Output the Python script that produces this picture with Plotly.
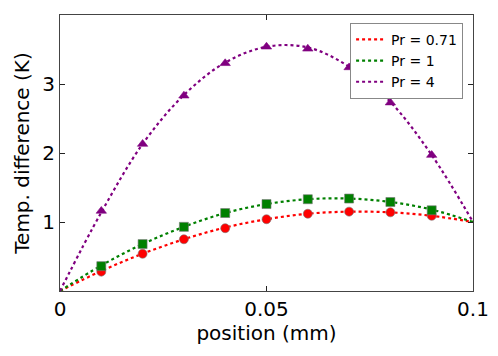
#! /usr/bin/env python3

import plotly.graph_objects as go

# model curves (dotted lines)
x_curve = [0.0, 0.01, 0.02, 0.03, 0.04, 0.05, 0.06, 0.07, 0.08, 0.09, 0.1]
curve_071 = [0.0, 0.29, 0.54, 0.75, 0.92, 1.04, 1.12, 1.15, 1.14, 1.09, 1.0]
curve_1 = [0.0, 0.37, 0.68, 0.93, 1.13, 1.26, 1.33, 1.34, 1.29, 1.18, 1.0]
curve_4 = [0.0, 1.14, 2.13, 2.84, 3.31, 3.54, 3.53, 3.25, 2.74, 1.97, 1.0]

# measured points (markers)
x_pts = [0.01, 0.02, 0.03, 0.04, 0.05, 0.06, 0.07, 0.08, 0.09]
pts_071 = [0.28, 0.54, 0.75, 0.91, 1.04, 1.12, 1.15, 1.14, 1.09]
pts_1 = [0.36, 0.68, 0.93, 1.13, 1.26, 1.33, 1.34, 1.29, 1.17]
pts_4 = [1.16, 2.13, 2.83, 3.30, 3.54, 3.51, 3.24, 2.73, 1.97]

series = [
    ("Pr = 0.71", curve_071, pts_071, "red", "circle", 9),
    ("Pr = 1", curve_1, pts_1, "green", "square", 9),
    ("Pr = 4", curve_4, pts_4, "purple", "triangle-up", 9),
]

fig = go.Figure()
for name, curve, pts, col, sym, sz in series:
    fig.add_trace(go.Scatter(
        x=x_curve, y=curve, mode="lines", name=name,
        line=dict(color=col, width=2.2, dash="dot", shape="spline"),
    ))
    fig.add_trace(go.Scatter(
        x=x_pts, y=pts, mode="markers", showlegend=False,
        marker=dict(color=col, symbol=sym, size=sz,
                    line=dict(color="#777777" if sym != "triangle-up" else col, width=0.6)),
    ))

font = "DejaVu Sans"
axis_common = dict(
    showgrid=False, zeroline=False, showline=True, mirror="ticks",
    linecolor="#444444", linewidth=1.2, ticks="inside", ticklen=5,
    tickcolor="#222222", tickfont=dict(family=font, size=20, color="black"),
    automargin=False,
)

fig.update_xaxes(
    range=[0, 0.1], tickvals=[0, 0.05, 0.1], ticktext=["0", "0.05", "0.1"],
    title=dict(text="position (mm)", font=dict(family=font, size=20, color="black"), standoff=0),
    **axis_common,
)
fig.update_yaxes(
    range=[0, 4], tickvals=[1, 2, 3],
    title=dict(text="Temp. difference (K)", font=dict(family=font, size=20, color="black"), standoff=7),
    **axis_common,
)

# page body has an 8px margin, so the figure is offset by 8px
fig.update_layout(
    width=490, height=348,
    margin=dict(l=52, r=25, t=7, b=65),
    plot_bgcolor="white", paper_bgcolor="white",
    font=dict(family=font, color="black"),
    legend=dict(
        x=0.976, y=0.972, xanchor="right", yanchor="top",
        bgcolor="white", bordercolor="#888888", borderwidth=1,
        font=dict(family=font, size=14), itemwidth=30, tracegroupgap=0,
    ),
)

fig.write_html("out.html")
